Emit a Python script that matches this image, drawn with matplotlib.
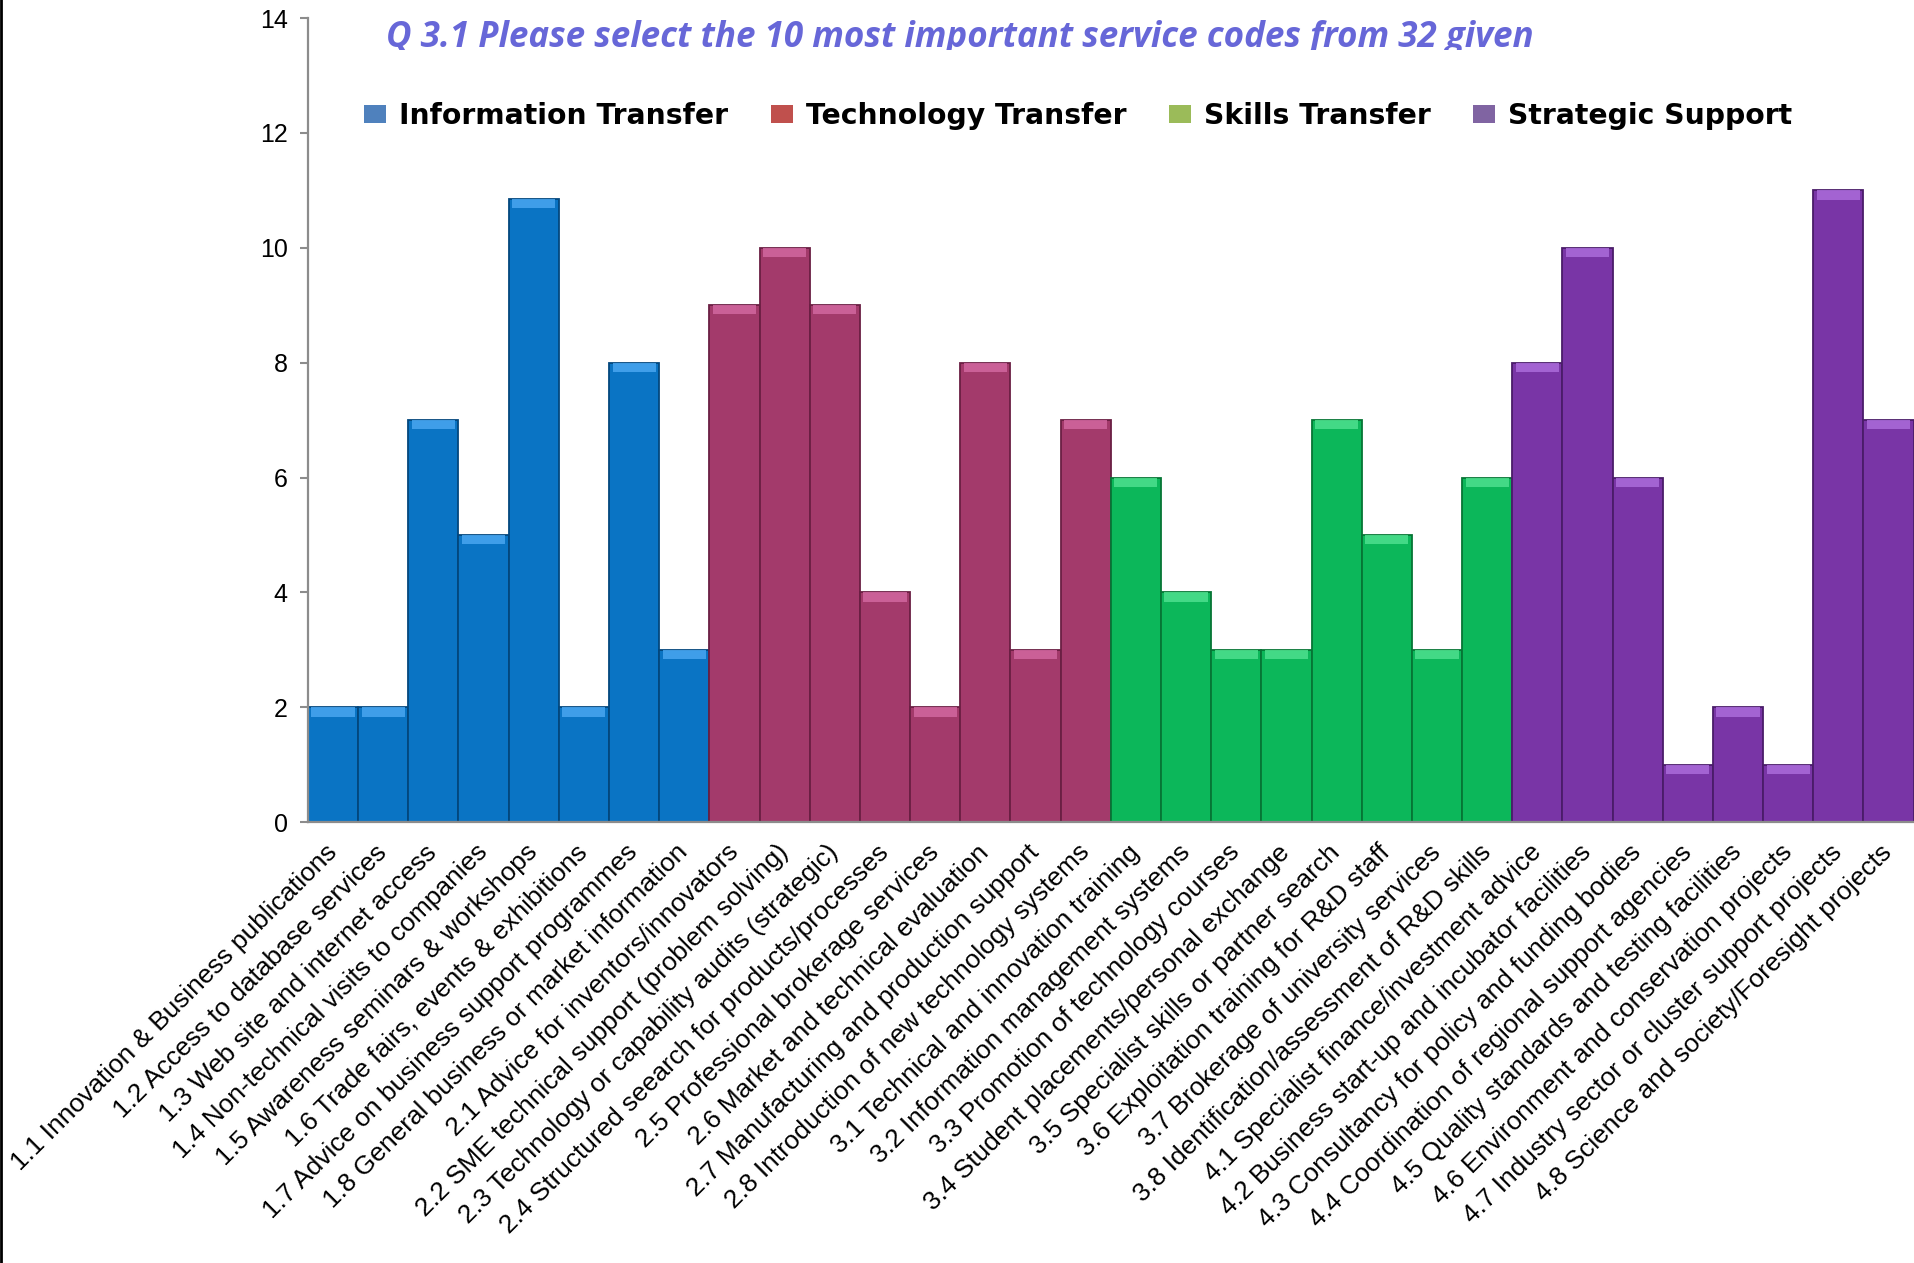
import matplotlib
matplotlib.use("Agg")
import matplotlib.pyplot as plt
from matplotlib.patches import Patch
from matplotlib.lines import Line2D
from matplotlib.transforms import Bbox
import numpy as np

# ---------------- data ----------------
title_text = "Q 3.1 Please select the 10 most important service codes from 32 given"

group_names = ["Information Transfer", "Technology Transfer", "Skills Transfer", "Strategic Support"]

info_labels = [
    "1.1 Innovation & Business publications",
    "1.2 Access to database services",
    "1.3 Web site and internet access",
    "1.4 Non-technical visits to companies",
    "1.5 Awareness seminars & workshops",
    "1.6 Trade fairs, events & exhibitions",
    "1.7 Advice on business support programmes",
    "1.8 General business or market information",
]
tech_labels = [
    "2.1 Advice for inventors/innovators",
    "2.2 SME technical support (problem solving)",
    "2.3 Technology or capability audits (strategic)",
    "2.4 Structured seearch for products/processes",
    "2.5 Professional brokerage services",
    "2.6 Market and technical evaluation",
    "2.7 Manufacturing and production support",
    "2.8 Introduction of new technology systems",
]
skills_labels = [
    "3.1 Technical and innovation training",
    "3.2 Information management systems",
    "3.3 Promotion of technology courses",
    "3.4 Student placements/personal exchange",
    "3.5 Specialist skills or partner search",
    "3.6 Exploitation training for R&D staff",
    "3.7 Brokerage of university services",
    "3.8 Identification/assessment of R&D skills",
]
strat_labels = [
    "4.1 Specialist finance/investment advice",
    "4.2 Business start-up and incubator facilities",
    "4.3 Consultancy for policy and funding bodies",
    "4.4 Coordination of regional support agencies",
    "4.5 Quality standards and testing facilities",
    "4.6 Environment and conservation projects",
    "4.7 Industry sector or cluster support projects",
    "4.8 Science and society/Foresight projects",
]

info_vals = [2, 2, 7, 5, 10.85, 2, 8, 3]
tech_vals = [9, 10, 9, 4, 2, 8, 3, 7]
skills_vals = [6, 4, 3, 3, 7, 5, 3, 6]
strat_vals = [8, 10, 6, 1, 2, 1, 11, 7]

y_ticks = [0, 2, 4, 6, 8, 10, 12, 14]

# ---------------- styles ----------------
bar_colors = ["#0A74C4", "#A33A6B", "#0CB75A", "#7935A6"]
top_colors = ["#49A6F0", "#D267A0", "#4EE08E", "#AB6CDB"]
edge_colors = ["#03477D", "#6A1F43", "#067535", "#4A1C69"]
legend_colors = ["#4F81BD", "#C0504D", "#9BBB59", "#8064A2"]

plt.rcParams["font.family"] = ["Liberation Sans", "DejaVu Sans"]

W, H = 1915, 1263
fig = plt.figure(figsize=(W / 100, H / 100), dpi=100)
ax = fig.add_axes([0.1608, 0.349, 0.8385, 0.6367])

groups_vals = [info_vals, tech_vals, skills_vals, strat_vals]
all_labels = info_labels + tech_labels + skills_labels + strat_labels

start = 0
for g, vals in enumerate(groups_vals):
    v = np.array(vals, dtype=float)
    x = np.arange(start, start + len(v))
    ax.bar(x, v, width=1.0, color=bar_colors[g], edgecolor=edge_colors[g],
           linewidth=1.3, zorder=2)
    band = 0.16
    ax.bar(x, np.full_like(v, band), bottom=v - band, width=0.86,
           color=top_colors[g], linewidth=0, zorder=3, alpha=0.85)
    start += len(v)

ax.set_xlim(-0.5, 31.5)
ax.set_ylim(0, 14)
ax.set_yticks(y_ticks)
ax.set_yticklabels([str(t) for t in y_ticks], fontsize=18)
ax.set_xticks(np.arange(len(all_labels)))
ax.set_xticklabels(all_labels, rotation=45, ha="right", va="center",
                   rotation_mode="anchor", fontsize=18.9)
ax.tick_params(axis="x", length=0, pad=19)
ax.tick_params(axis="y", length=5.5, width=1.5, color="#8C8C8C", pad=9, direction="out")
for s in ["top", "right"]:
    ax.spines[s].set_visible(False)
ax.spines["left"].set_color("#8C8C8C")
ax.spines["left"].set_linewidth(1.6)
ax.spines["bottom"].set_color("#8C8C8C")
ax.spines["bottom"].set_linewidth(1.6)

# title (clipped at bottom as in the original)
t = fig.text(0.501, 1 - 47 / H, title_text, ha="center", va="baseline",
             fontsize=26, fontweight="bold", fontstyle="italic",
             color="#6767D8", family=["Open Sans", "DejaVu Sans"])
fig.canvas.draw()
r = fig.canvas.get_renderer()
tw = t.get_window_extent(r).width
t.set_fontsize(26 * 1148 / tw)
clip = Bbox.from_extents(0, H - 50, W, H)
t.set_clip_box(clip)
t.set_clip_on(True)

# legend
handles = [Patch(facecolor=c, edgecolor="none") for c in legend_colors]
leg = fig.legend(handles, group_names, loc="center", ncol=4,
                 bbox_to_anchor=(0.563, 0.908), frameon=False,
                 prop={"family": ["DejaVu Sans"], "weight": "bold", "size": 20.3},
                 handlelength=0.78, handleheight=0.6, handletextpad=0.46,
                 columnspacing=1.52)

# left border line of the original image
fig.add_artist(Line2D([0.0006, 0.0006], [0, 1], transform=fig.transFigure,
                      color="black", linewidth=2))

fig.savefig("out.png", dpi=100)
